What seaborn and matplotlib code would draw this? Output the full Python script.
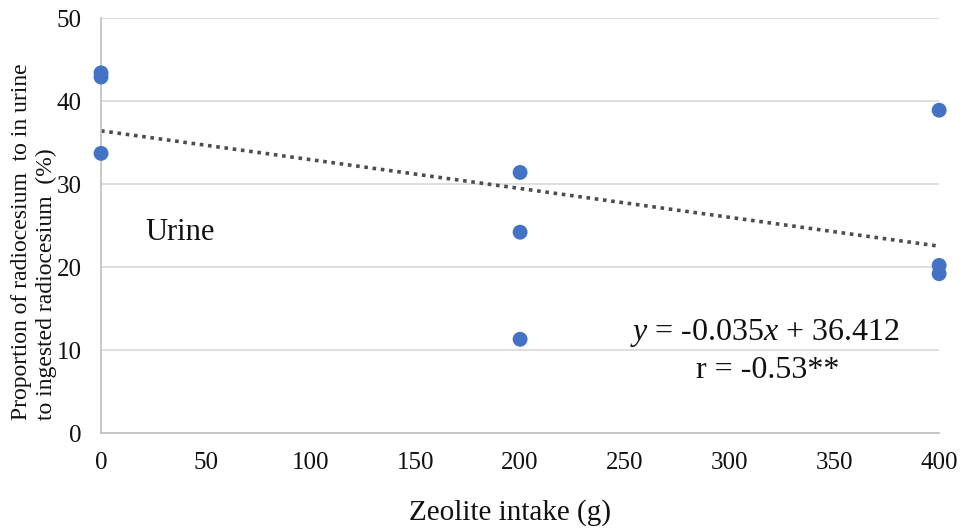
import matplotlib
matplotlib.use("Agg")
import matplotlib.pyplot as plt
import seaborn as sns
import pandas as pd

# Data
zeolite_g = [0, 0, 0, 200, 200, 200, 400, 400, 400]
urine_pct = [43.4, 42.9, 33.7, 31.4, 24.2, 11.3, 38.9, 20.2, 19.2]
y_ticks = [0, 10, 20, 30, 40, 50]
x_ticks = [0, 50, 100, 150, 200, 250, 300, 350, 400]
equation_text = r"$\mathit{y}$ = -0.035$\mathit{x}$ + 36.412"
r_text = "r = -0.53**"

df = pd.DataFrame({"x": zeolite_g, "y": urine_pct})

sns.set_theme(style="white")
plt.rcParams["font.family"] = ["Liberation Serif", "DejaVu Serif"]
plt.rcParams["mathtext.fontset"] = "custom"
plt.rcParams["mathtext.rm"] = "Liberation Serif"
plt.rcParams["mathtext.it"] = "Liberation Serif:italic"

fig = plt.figure(figsize=(9.65, 5.32), dpi=100)
ax = fig.add_axes([0.1047, 0.186, 0.8685, 0.780])
ax.set_xlim(0, 400)
ax.set_ylim(0, 50)

sns.regplot(data=df, x="x", y="y", ax=ax, ci=None, scatter=False, truncate=False,
            line_kws=dict(color="#4d4d4d", linestyle=(0, (1, 1.3)), linewidth=2.6))
sns.scatterplot(data=df, x="x", y="y", ax=ax, s=115, color="#4472C4",
                edgecolor="none", clip_on=False, zorder=5)

ax.set_xlim(0, 400)
ax.set_ylim(0, 50)
ax.set_xticks(x_ticks)
ax.set_yticks(y_ticks)
ax.tick_params(axis="both", length=0, labelsize=18, colors="#111111")
ax.tick_params(axis="x", pad=14)
ax.tick_params(axis="y", pad=14)
ax.yaxis.grid(True, color="#d9d9d9", linewidth=1.2)
ax.xaxis.grid(False)
for s in ["top", "right"]:
    ax.spines[s].set_visible(False)
for s in ["left", "bottom"]:
    ax.spines[s].set_color("#bfbfbf")
    ax.spines[s].set_linewidth(1.2)

ax.set_xlabel("Zeolite intake (g)", fontsize=21, color="#111111")
ax.xaxis.set_label_coords(0.488, -0.158)
ax.set_ylabel("Proportion of radiocesium  to in urine\nto ingested radiocesium  (%)",
              fontsize=17, color="#111111", linespacing=1.2,
              multialignment="left")
ax.yaxis.set_label_coords(-0.053, 0.46)

ax.text(21, 24.2, "Urine", fontsize=22, va="center", ha="left", color="#111111")
ax.text(317, 12.0, equation_text, fontsize=23, va="center", ha="center", color="#111111")
ax.text(318, 7.5, r_text, fontsize=23, va="center", ha="center", color="#111111")

fig.savefig("out.png", dpi=100)
